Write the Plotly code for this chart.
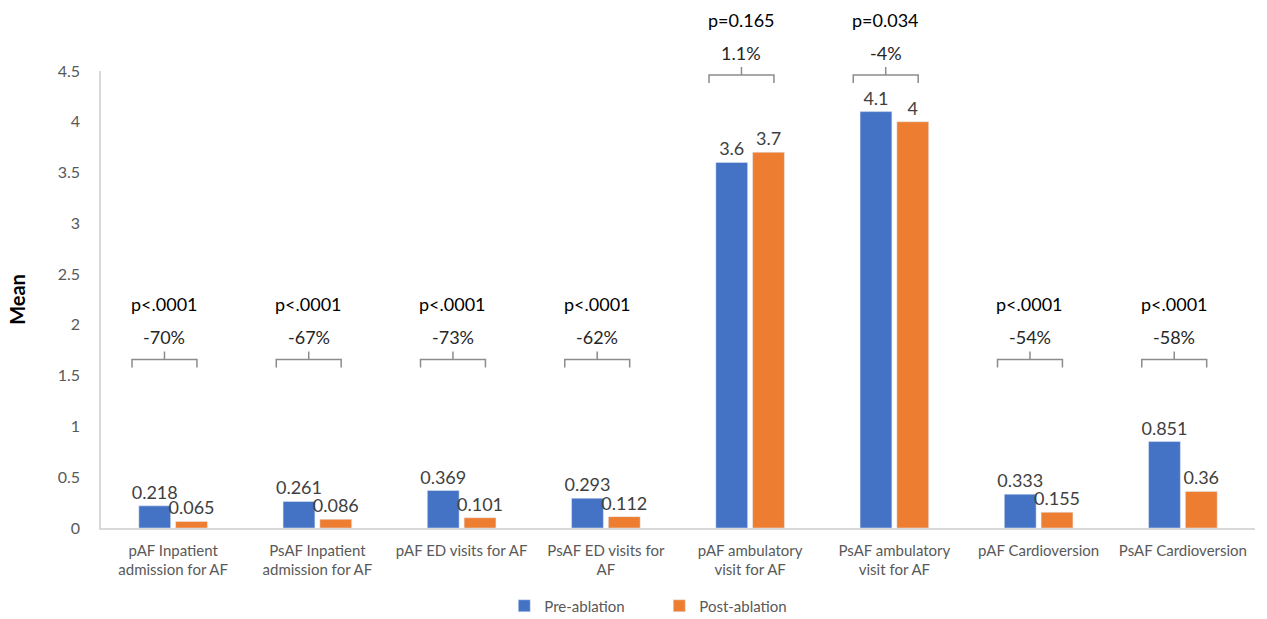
import plotly.graph_objects as go

categories = [
    "pAF Inpatient<br>admission for AF",
    "PsAF Inpatient<br>admission for AF",
    "pAF ED visits for AF",
    "PsAF ED visits for<br>AF",
    "pAF ambulatory<br>visit for AF",
    "PsAF ambulatory<br>visit for AF",
    "pAF Cardioversion",
    "PsAF Cardioversion",
]
pre_ablation = [0.218, 0.261, 0.369, 0.293, 3.6, 4.1, 0.333, 0.851]
post_ablation = [0.065, 0.086, 0.101, 0.112, 3.7, 4.0, 0.155, 0.36]
pre_labels = ["0.218", "0.261", "0.369", "0.293", "3.6", "4.1", "0.333", "0.851"]
post_labels = ["0.065", "0.086", "0.101", "0.112", "3.7", "4", "0.155", "0.36"]
pct_change = ["-70%", "-67%", "-73%", "-62%", "1.1%", "-4%", "-54%", "-58%"]
p_values = ["p<.0001", "p<.0001", "p<.0001", "p<.0001", "p=0.165", "p=0.034", "p<.0001", "p<.0001"]

# bracket levels (data units) for annotations
bracket_level = [1.66, 1.66, 1.66, 1.66, 4.46, 4.46, 1.66, 1.66]

Y_MAX = 4.5
PLOT_H = 457  # px height of plot area
FONT = "Lato, 'Open Sans', sans-serif"

fig = go.Figure()
fig.add_trace(go.Bar(
    x=list(range(len(categories))), y=pre_ablation, name="Pre-ablation",
    marker_color="#4472C4", text=pre_labels, textposition="outside",
    constraintext="none",
    textfont=dict(size=18, color="#404040", family=FONT), cliponaxis=False,
))
fig.add_trace(go.Bar(
    x=list(range(len(categories))), y=post_ablation, name="Post-ablation",
    marker_color="#ED7D31", text=post_labels, textposition="outside",
    constraintext="none",
    textfont=dict(size=18, color="#404040", family=FONT), cliponaxis=False,
))

shapes = []
annotations = []
px = 1.0 / PLOT_H
for i, lvl in enumerate(bracket_level):
    yc = lvl / Y_MAX
    xc = i - 0.06
    x0, x1 = xc - 0.225, xc + 0.225
    path = (f"M {x0},{yc - 8*px} L {x0},{yc} L {x1},{yc} L {x1},{yc - 8*px} "
            f"M {xc},{yc} L {xc},{yc + 8*px}")
    shapes.append(dict(type="path", xref="x", yref="paper", path=path,
                       line=dict(color="#8C8C8C", width=1.5)))
    annotations.append(dict(x=xc, y=yc, xref="x", yref="paper", text=pct_change[i],
                            showarrow=False, yshift=22, yanchor="middle",
                            font=dict(size=18, color="#262626", family=FONT)))
    annotations.append(dict(x=xc, y=yc, xref="x", yref="paper", text=p_values[i],
                            showarrow=False, yshift=55, yanchor="middle",
                            font=dict(size=18, color="#000000", family=FONT)))

fig.update_layout(
    width=1267, height=619,
    margin=dict(l=101, r=12, t=71, b=91, autoexpand=False),
    paper_bgcolor="white", plot_bgcolor="white",
    barmode="group", bargap=0.49, bargroupgap=0.135,
    font=dict(family=FONT, color="#595959"),
    shapes=shapes, annotations=annotations,
    showlegend=True,
    legend=dict(orientation="h", x=0.398, xanchor="left", xref="container",
                y=0.021, yanchor="middle", yref="container",
                font=dict(size=15, color="#595959", family=FONT),
                itemwidth=30, entrywidth=110, entrywidthmode="pixels",
                traceorder="normal"),
    xaxis=dict(tickmode="array", tickvals=list(range(len(categories))), ticktext=categories,
               range=[-0.5, len(categories) - 0.5], showline=True, linecolor="#D9D9D9",
               linewidth=1.5, ticks="", showgrid=False, zeroline=False, automargin=False,
               ticklabelstandoff=8,
               tickfont=dict(size=15, color="#595959", family=FONT)),
    yaxis=dict(range=[0, Y_MAX], dtick=0.5, showline=True, linecolor="#D9D9D9",
               linewidth=1.5, showgrid=False, zeroline=False, ticks="", automargin=False,
               ticklabelstandoff=16,
               tickfont=dict(size=16, color="#595959", family=FONT),
               title=dict(text="<b>Mean</b>", standoff=27,
                          font=dict(size=20, color="#000000", family=FONT))),
)

fig.write_html("out.html", config={"displayModeBar": False},
               post_script="document.body.style.margin='0';")
